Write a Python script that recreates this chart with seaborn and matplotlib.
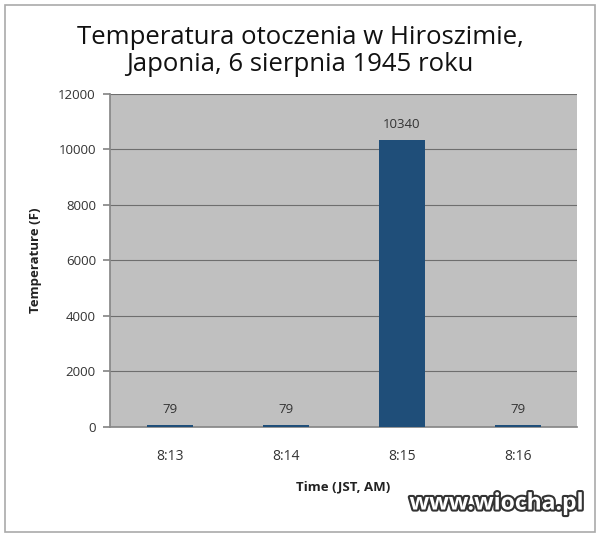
import seaborn as sns
import matplotlib.pyplot as plt
import pandas as pd
from matplotlib.patches import Rectangle
import matplotlib.patheffects as pe

times = ['8:13', '8:14', '8:15', '8:16']
temps = [79, 79, 10340, 79]

data = pd.DataFrame({'Time': times, 'Temperature': temps})

sns.set_theme(style='white')
plt.rcParams['font.family'] = ['Open Sans', 'DejaVu Sans']

fig = plt.figure(figsize=(6, 5.37), dpi=100)
ax = fig.add_axes([0.183, 0.205, 0.779, 0.62])
ax.set_facecolor('#c0c0c0')

sns.barplot(x='Time', y='Temperature', data=data, color='#1f4e79', width=0.4,
            saturation=1, linewidth=0, ax=ax, zorder=3)

ax.set_ylim(0, 12000)
ax.set_yticks(range(0, 12001, 2000))
ax.set_xlim(-0.517, 3.51)
ax.grid(axis='y', color='#6e6e6e', linewidth=0.8, zorder=0)
ax.set_axisbelow(True)

# value labels above the bars
for i, v in enumerate(temps):
    ax.text(i, v + 330, str(v), ha='center', va='bottom', fontsize=9.5, color='#333333')

ax.tick_params(axis='y', left=True, length=5, color='#888888', labelsize=9.5, labelcolor='#333333', pad=5)
ax.tick_params(axis='x', bottom=False, labelsize=10, labelcolor='#333333', pad=10)
for s in ['top', 'right']:
    ax.spines[s].set_visible(False)
ax.spines['left'].set_color('#888888')
ax.spines['bottom'].set_color('#888888')

ax.set_xlabel('Time (JST, AM)', fontsize=9.5, fontweight='bold', color='#222222', labelpad=12)
ax.set_ylabel('Temperature (F)', fontsize=9.5, fontweight='bold', color='#222222', labelpad=12)

fig.text(0.5, 0.905, 'Temperatura otoczenia w Hiroszimie,\nJaponia, 6 sierpnia 1945 roku',
         ha='center', va='center', fontsize=18.5, color='#111111', linespacing=1.15)

fig.patches.append(Rectangle((0.008, 0.01), 0.984, 0.98, transform=fig.transFigure,
                             fill=False, edgecolor='#aaaaaa', linewidth=1.2))

wm = fig.text(0.972, 0.04, 'www.wiocha.pl', ha='right', va='bottom', fontsize=16.5,
              fontweight='bold', color='white')
wm.set_path_effects([pe.withStroke(linewidth=3, foreground='#333333')])

fig.savefig('out.png', dpi=100, facecolor='white')
